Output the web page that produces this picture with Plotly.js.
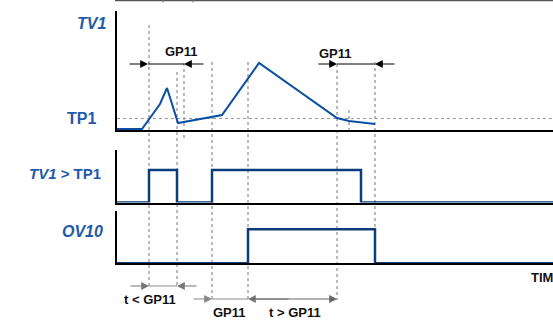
<!DOCTYPE html>
<html>
<head>
<meta charset="utf-8">
<script src="https://cdn.plot.ly/plotly-3.0.1.min.js"></script>
<style>html,body{margin:0;padding:0;background:#fff;}#chart{width:553px;height:323px;}</style>
</head>
<body>
<div id="chart"></div>
<script>
// ---- data (time in arbitrary units, TV1 in arbitrary units) ----
const tvTime = [0, 25, 43, 50, 61, 105, 142, 220, 232, 258];
const tv1Values = [1, 1, 26, 42, 7, 15, 67, 12, 9, 6];
const tp1Level = 11.5;
const cmpTime = [0, 32, 60, 95, 244, 436];
const cmpState = [0, 1, 0, 1, 0, 0];
const ovTime = [0, 131, 258, 436];
const ovState = [0, 1, 0, 0];
const markerTimes = [32, 60, 67, 95, 131, 220, 232, 258];
const panelLabels = ["TV1", "TP1", "TV1 > TP1", "OV10"];
const timeLabel = "TIM";
const gapLabels = ["GP11", "GP11", "t < GP11", "GP11", "t > GP11"];

// ---- layout helpers ----
const W = 553, H = 323, X0 = 117;
const py = p => 1 - p / H;
const blue = '#0a4fa3', navy = '#0b3d7c', lblue = '#1f5aa8';
const FONT = 'Liberation Sans, Arial, sans-serif';

const traces = [
  {x: tvTime, y: tv1Values, xaxis: 'x', yaxis: 'y', mode: 'lines',
   line: {color: blue, width: 2}, hoverinfo: 'skip'},
  {x: cmpTime, y: cmpState, xaxis: 'x2', yaxis: 'y2', mode: 'lines',
   line: {color: navy, width: 2.5, shape: 'hv'}, hoverinfo: 'skip'},
  {x: ovTime, y: ovState, xaxis: 'x3', yaxis: 'y3', mode: 'lines',
   line: {color: navy, width: 2.5, shape: 'hv'}, hoverinfo: 'skip'}
];

const xdom = [X0 / W, 1];
const xr = [0, W - X0];
const xa = (anchor) => ({domain: xdom, range: xr, anchor: anchor, showline: true, linecolor: '#000',
  linewidth: 2, showticklabels: false, ticks: '', showgrid: false, zeroline: false, fixedrange: true});
const ya = (dom, rng, anchor) => ({domain: dom, range: rng, anchor: anchor, showline: true, linecolor: '#000',
  linewidth: 2, showticklabels: false, ticks: '', showgrid: false, zeroline: false, fixedrange: true});

// vertical dotted marker extents (pixel y)
const vExt = [[25, 287], [72, 287], [63, 140], [62, 300], [62, 300], [64, 300], [110, 133], [62, 263]];
const shapes = [];
markerTimes.forEach((t, i) => {
  shapes.push({type: 'line', xref: 'x', yref: 'paper', x0: t, x1: t, y0: py(vExt[i][0]), y1: py(vExt[i][1]),
    line: {color: '#777', width: 1, dash: 'dot'}, layer: 'below'});
});
// TP1 threshold
shapes.push({type: 'line', xref: 'paper', yref: 'y', x0: X0 / W, x1: 1, y0: tp1Level, y1: tp1Level,
  line: {color: '#999', width: 1.2, dash: '3px,3px'}, layer: 'below'});
// top border line
shapes.push({type: 'line', xref: 'paper', yref: 'paper', x0: 115 / W, x1: 1, y0: py(0.5), y1: py(0.5),
  line: {color: '#555', width: 1.5}});
[163, 193].forEach(px => shapes.push({type: 'line', xref: 'paper', yref: 'paper', x0: px / W, x1: px / W,
  y0: py(0), y1: py(2.5), line: {color: '#777', width: 1}}));

// arrow definitions: [tailPx, tipPx, yPx, colour]
const arrows = [
  [128, 148, 64, '#000'], [205, 184, 64, '#000'],
  [317, 337, 64, '#000'], [396, 375, 64, '#000'],
  [129, 149, 286, '#777'], [198, 177, 286, '#777'],
  [192, 212, 299, '#888'], [290, 248, 299, '#777'],
  [250, 337, 299, '#666']
];
// connecting lines
[[148, 184, 64, '#000'], [337, 375, 64, '#000'], [149, 177, 286, '#888'], [212, 248, 299, '#888']].forEach(s =>
  shapes.push({type: 'line', xref: 'x', yref: 'paper', x0: s[0] - X0, x1: s[1] - X0, y0: py(s[2]), y1: py(s[2]),
    line: {color: s[3], width: 1}}));

const annotations = [];
arrows.forEach(a => annotations.push({xref: 'x', yref: 'paper', axref: 'x', ayref: 'pixel',
  x: a[1] - X0, y: py(a[2]), ax: a[0] - X0, ay: 0, text: '', showarrow: true,
  arrowhead: 2, arrowsize: 1.3, arrowwidth: 1.2, arrowcolor: a[3], standoff: 0}));

const lbl = (text, xpx, ypx, anchor, size, color) => ({xref: 'paper', yref: 'paper', x: xpx / W, y: py(ypx),
  xanchor: anchor, yanchor: 'middle', text: text, showarrow: false,
  font: {family: FONT, size: size, color: color}});
annotations.push(lbl('<b><i>' + panelLabels[0] + '</i></b>', 108, 23, 'right', 16, lblue));
annotations.push(lbl('<b>' + panelLabels[1] + '</b>', 98, 118, 'right', 16, lblue));
annotations.push(lbl('<b><i>TV1</i> &gt; TP1</b>', 103, 173, 'right', 15, lblue));
annotations.push(lbl('<b><i>' + panelLabels[3] + '</i></b>', 105, 231, 'right', 16, lblue));
annotations.push(lbl('<b>' + timeLabel + '</b>', 529, 277, 'left', 13, '#111'));
annotations.push(lbl('<b>' + gapLabels[0] + '</b>', 181, 52, 'center', 13, '#111'));
annotations.push(lbl('<b>' + gapLabels[1] + '</b>', 335, 53, 'center', 13, '#111'));
annotations.push(lbl('<b>' + gapLabels[2].replace('<', '&lt;') + '</b>', 150, 299, 'center', 13, '#111'));
annotations.push(lbl('<b>' + gapLabels[3] + '</b>', 229, 312, 'center', 13, '#111'));
annotations.push(lbl('<b>' + gapLabels[4].replace('>', '&gt;') + '</b>', 295, 312, 'center', 13, '#111'));

const layout = {
  width: W, height: H, margin: {l: 0, r: 0, t: 0, b: 0}, showlegend: false,
  paper_bgcolor: '#fff', plot_bgcolor: 'rgba(0,0,0,0)', font: {family: FONT},
  xaxis: xa('y'), xaxis2: xa('y2'), xaxis3: xa('y3'),
  yaxis: ya([py(130), py(11)], [0, 119], 'x'),
  yaxis2: ya([py(202.5), py(150)], [0, 1.615], 'x2'),
  yaxis3: ya([py(263.3), py(211)], [0, 1.54], 'x3'),
  shapes: shapes, annotations: annotations
};
Plotly.newPlot('chart', traces, layout, {staticPlot: true, displayModeBar: false});
</script>
</body>
</html>
